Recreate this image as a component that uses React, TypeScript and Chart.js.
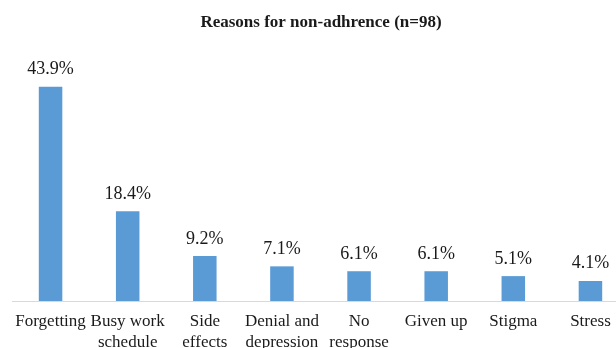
import React, { useEffect, useRef } from "react";
import { Chart, registerables } from "chart.js";

Chart.register(...registerables);

const categories: (string | string[])[] = [
  "Forgetting",
  ["Busy work", "schedule"],
  ["Side", "effects"],
  ["Denial and", "depression"],
  ["No", "response"],
  "Given up",
  "Stigma",
  "Stress",
];
const values = [43.9, 18.4, 9.2, 7.1, 6.1, 6.1, 5.1, 4.1];
const valueLabels = ["43.9%", "18.4%", "9.2%", "7.1%", "6.1%", "6.1%", "5.1%", "4.1%"];
const titleText = "Reasons for non-adhrence (n=98)";

const SERIF = "'Liberation Serif', 'Times New Roman', serif";

export default function App() {
  const ref = useRef<HTMLCanvasElement | null>(null);

  useEffect(() => {
    if (!ref.current) return;
    const labelPlugin = {
      id: "valueLabels",
      afterDatasetsDraw(chart: any) {
        const ctx = chart.ctx;
        const meta = chart.getDatasetMeta(0);
        ctx.save();
        ctx.font = `18px ${SERIF}`;
        ctx.fillStyle = "#1a1a1a";
        ctx.textAlign = "center";
        ctx.textBaseline = "alphabetic";
        meta.data.forEach((bar: any, i: number) => {
          ctx.fillText(valueLabels[i], bar.x, bar.y - 12.5);
        });
        ctx.font = `bold 17px ${SERIF}`;
        ctx.fillText(titleText, 321, 27);
        ctx.restore();
      },
    };
    const chart = new Chart(ref.current, {
      type: "bar",
      data: {
        labels: categories,
        datasets: [
          {
            data: values,
            backgroundColor: "#5B9BD5",
            categoryPercentage: 1,
            barPercentage: 0.305,
          },
        ],
      },
      options: {
        animation: false,
        responsive: false,
        devicePixelRatio: 1,
        layout: { padding: { left: 12, right: 11, top: 57, bottom: 0 } },
        plugins: {
          legend: { display: false },
          title: { display: false },
          tooltip: { enabled: false },
        },
        scales: {
          x: {
            grid: { display: false, drawTicks: false },
            border: { display: true, color: "#D9D9D9", width: 1 },
            ticks: {
              color: "#1a1a1a",
              font: { family: SERIF, size: 17, lineHeight: 1.25 },
              padding: 10,
              maxRotation: 0,
              autoSkip: false,
            },
            afterFit(scale: any) {
              scale.height = 47;
            },
          },
          y: {
            display: false,
            min: 0,
            max: 50,
          },
        },
      },
      plugins: [labelPlugin],
    });
    return () => chart.destroy();
  }, []);

  return (
    <div
      style={{
        position: "fixed",
        left: 0,
        top: 0,
        width: 616,
        height: 348,
        overflow: "hidden",
        background: "#fff",
      }}
    >
      <canvas ref={ref} width={640} height={348} style={{ width: 640, height: 348, display: "block" }} />
    </div>
  );
}
